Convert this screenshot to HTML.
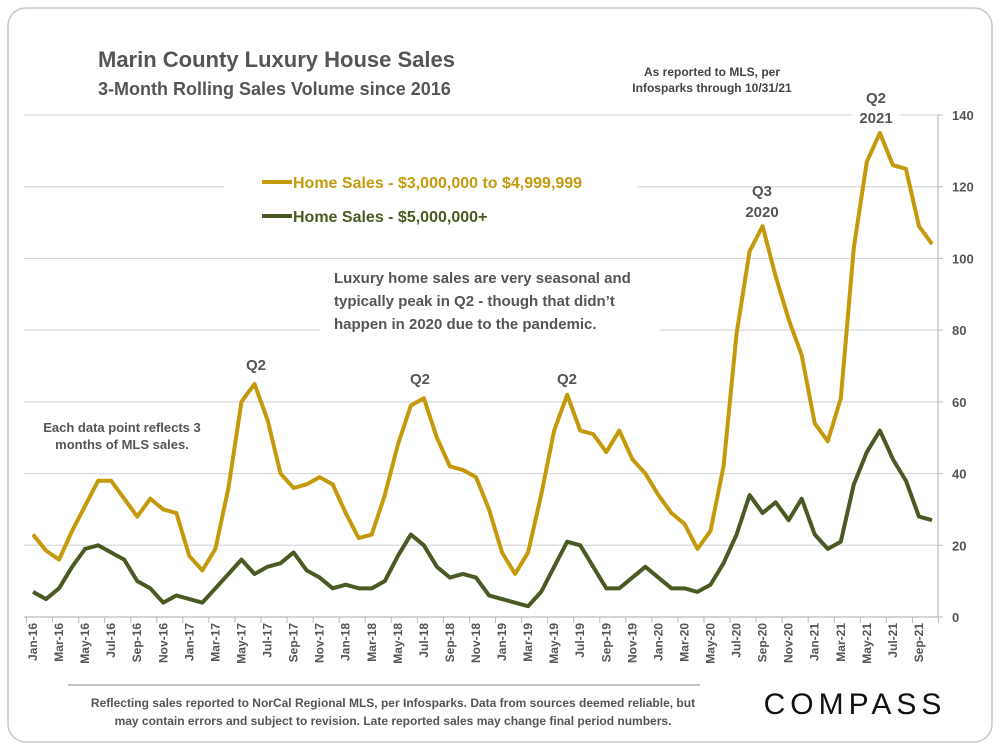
<!DOCTYPE html>
<html><head><meta charset="utf-8"><style>
body{margin:0;background:#fff;width:1000px;height:750px;overflow:hidden;font-family:"Liberation Sans",sans-serif}
svg text{font-family:"Liberation Sans",sans-serif}
</style></head><body>
<svg id="chart" width="1000" height="750">
<rect x="8" y="8" width="984" height="734" rx="18" fill="#fff" stroke="#c8c8c8" stroke-width="1.5"/>
<g id="grid"></g>
<g id="ticks"></g>
<g id="lines"></g>
<rect x="224" y="160" width="413" height="70" fill="#fff"/>
<rect x="320" y="262" width="340" height="80" fill="#fff"/>
<rect x="40" y="415" width="165" height="45" fill="#fff"/>
<rect x="852" y="88" width="48" height="40" fill="#fff"/>
<text x="98" y="67" font-size="22" font-weight="bold" fill="#555">Marin County Luxury House Sales</text>
<text x="98" y="95" font-size="18" font-weight="bold" fill="#555">3-Month Rolling Sales Volume since 2016</text>
<text x="712" y="76" font-size="12" font-weight="bold" fill="#444" text-anchor="middle"><tspan x="712">As reported to MLS, per</tspan><tspan x="712" dy="16">Infosparks through 10/31/21</tspan></text>
<g>
<line x1="262" y1="182" x2="292" y2="182" stroke="#c49a0c" stroke-width="4"/>
<text x="293" y="188" font-size="16" font-weight="bold" fill="#c49a0c">Home Sales - $3,000,000 to $4,999,999</text>
<line x1="262" y1="216" x2="292" y2="216" stroke="#4a5a23" stroke-width="4"/>
<text x="293" y="222" font-size="16" font-weight="bold" fill="#4a5a23">Home Sales - $5,000,000+</text>
</g>
<text font-size="15" font-weight="bold" fill="#555"><tspan x="334" y="283">Luxury home sales are very seasonal and</tspan><tspan x="334" y="306">typically peak in Q2 - though that didn’t</tspan><tspan x="334" y="329">happen in 2020 due to the pandemic.</tspan></text>
<text font-size="13" font-weight="bold" fill="#555" text-anchor="middle"><tspan x="122" y="432">Each data point reflects 3</tspan><tspan x="122" y="449">months of MLS sales.</tspan></text>
<g font-size="15" font-weight="bold" fill="#555" text-anchor="middle">
<text x="256" y="370">Q2</text><text x="420" y="384">Q2</text><text x="567" y="384">Q2</text>
<text x="762" y="196">Q3</text><text x="762" y="217">2020</text>
<text x="876" y="103">Q2</text><text x="876" y="123">2021</text>
</g>
<line x1="68" y1="685" x2="700" y2="685" stroke="#888" stroke-width="1"/>
<text font-size="12" font-weight="bold" fill="#555" text-anchor="middle"><tspan x="393" y="707">Reflecting sales reported to NorCal Regional MLS, per Infosparks. Data from sources deemed reliable, but</tspan><tspan x="393" y="725">may contain errors and subject to revision. Late reported sales may change final period numbers.</tspan></text>
<text x="855" y="714" font-size="30" fill="#111" text-anchor="middle" letter-spacing="5">COMPASS</text>
</svg>
<script>
const months=["Jan","Feb","Mar","Apr","May","Jun","Jul","Aug","Sep","Oct","Nov","Dec"];
const categories=[];for(let y=16;y<=21;y++)for(let m=0;m<12;m++){if(y===21&&m>9)break;categories.push(months[m]+"-"+y);}
const sales3to5=[23,18.5,16,24,31,38,38,33,28,33,30,29,17,13,19,36,60,65,55,40,36,37,39,37,29,22,23,34,48,59,61,50,42,41,39,30,18,12,18,34,52,62,52,51,46,52,44,40,34,29,26,19,24,42,79,102,109,95,83,73,54,49,61,103,127,135,126,125,109,104];
const sales5plus=[7,5,8,14,19,20,18,16,10,8,4,6,5,4,8,12,16,12,14,15,18,13,11,8,9,8,8,10,17,23,20,14,11,12,11,6,5,4,3,7,14,21,20,14,8,8,11,14,11,8,8,7,9,15,23,34,29,32,27,33,23,19,21,37,46,52,44,38,28,27];
const yTicks=[0,20,40,60,80,100,120,140];
const NS="http://www.w3.org/2000/svg";
const x0=33,step=(932-33)/69,yBase=617,yScale=(617-115)/140;
function xs(i){return x0+i*step;}
function ys(v){return yBase-v*yScale;}
function mk(t,a,p){const e=document.createElementNS(NS,t);for(const k in a)e.setAttribute(k,a[k]);p.appendChild(e);return e;}
const grid=document.getElementById('grid'),ticks=document.getElementById('ticks'),lines=document.getElementById('lines');
yTicks.forEach(v=>{
 if(v>0){const g=mk('line',{x1:24,x2:938,y1:ys(v),y2:ys(v),stroke:'#d9d9d9','stroke-width':1.2},grid);
 
 }
 const t=mk('text',{x:952,y:ys(v)+5,'font-size':13,'font-weight':'bold',fill:'#555'},ticks);t.textContent=v;
 
 
 mk('line',{x1:938,x2:943,y1:ys(v),y2:ys(v),stroke:'#bbb'},ticks);
});
mk('line',{x1:938,x2:938,y1:115,y2:617,stroke:'#bbb','stroke-width':1.2},ticks);
mk('line',{x1:24,x2:938,y1:617,y2:617,stroke:'#bbb','stroke-width':1.2},ticks);
for(let i=0;i<=categories.length;i+=2){mk('line',{x1:xs(i)-step/2,x2:xs(i)-step/2,y1:617,y2:623,stroke:'#bbb'},ticks);}
categories.forEach((c,i)=>{if(i%2)return;
 const t=mk('text',{x:0,y:0,'font-size':12,'font-weight':'bold',fill:'#555','text-anchor':'end',transform:`translate(${xs(i)+4},623) rotate(-90)`},ticks);t.textContent=c;
 
 
});
function line(data,color,name){const p=mk('polyline',{points:data.map((v,i)=>xs(i)+','+ys(v)).join(' '),fill:'none',stroke:color,'stroke-width':4,'stroke-linejoin':'round'},lines);
 
 }
line(sales3to5,'#c49a0c','series-3m-to-5m');
line(sales5plus,'#4a5a23','series-5m-plus');
</script>
</body></html>
